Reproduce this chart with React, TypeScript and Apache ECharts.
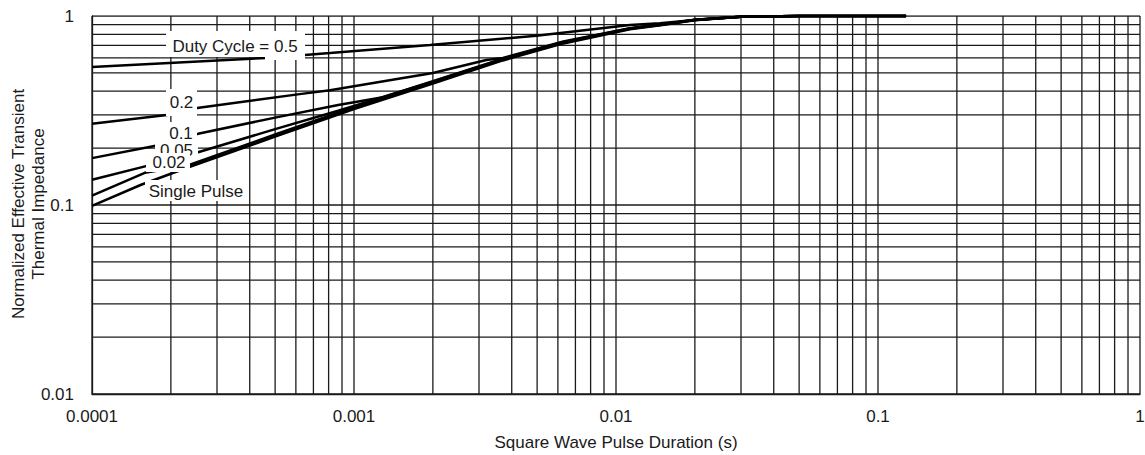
import React, { useEffect, useRef } from "react";
import * as echarts from "echarts";

const xTickLabels = ["0.0001", "0.001", "0.01", "0.1", "1"];
const yTickLabels = ["0.01", "0.1", "1"];

const xGridValues = [
  0.0001, 0.0002, 0.0003, 0.0004, 0.0005, 0.0006, 0.0007, 0.0008, 0.0009,
  0.001, 0.002, 0.003, 0.004, 0.005, 0.006, 0.007, 0.008, 0.009,
  0.01, 0.02, 0.03, 0.04, 0.05, 0.06, 0.07, 0.08, 0.09,
  0.1, 0.2, 0.3, 0.4, 0.5, 0.6, 0.7, 0.8, 0.9, 1,
];
const yGridValues = [
  0.01, 0.02, 0.03, 0.04, 0.05, 0.06, 0.07, 0.08, 0.09,
  0.1, 0.2, 0.3, 0.4, 0.5, 0.6, 0.7, 0.8, 0.9, 1,
];

const duty05 = [
  [0.0001, 0.537], [0.000466, 0.6], [0.00081, 0.637], [0.00195, 0.703],
  [0.00497, 0.786], [0.0113, 0.895], [0.0147, 0.915], [0.02, 0.953],
  [0.03, 0.99], [0.05, 1.0], [0.128, 1.0],
];
const duty02 = [
  [0.0001, 0.269], [0.000193, 0.299], [0.000252, 0.326], [0.00062, 0.386],
  [0.00081, 0.405], [0.002, 0.499], [0.0032, 0.585], [0.0037, 0.6],
  [0.0063, 0.733], [0.0113, 0.862], [0.015, 0.905], [0.02, 0.956],
  [0.03, 0.99], [0.05, 1.0], [0.128, 1.0],
];
const duty01 = [
  [0.0001, 0.177], [0.000179, 0.207], [0.000254, 0.238], [0.0005, 0.29],
  [0.00087, 0.338], [0.00129, 0.372], [0.002, 0.452], [0.0037, 0.595],
  [0.0063, 0.728], [0.0113, 0.86], [0.015, 0.903], [0.02, 0.955],
  [0.03, 0.99], [0.05, 1.0], [0.128, 1.0],
];
const duty005 = [
  [0.0001, 0.136], [0.000168, 0.163], [0.000254, 0.19], [0.0005, 0.252],
  [0.00087, 0.315], [0.001, 0.334], [0.002, 0.449], [0.0037, 0.592],
  [0.0063, 0.725], [0.0113, 0.858], [0.015, 0.901], [0.02, 0.954],
  [0.03, 0.99], [0.05, 1.0], [0.128, 1.0],
];
const duty002 = [
  [0.0001, 0.112], [0.000159, 0.148], [0.000232, 0.162], [0.0005, 0.236],
  [0.001, 0.329], [0.002, 0.445], [0.0037, 0.588], [0.0063, 0.721],
  [0.0113, 0.855], [0.015, 0.899], [0.02, 0.952], [0.03, 0.99],
  [0.05, 1.0], [0.128, 1.0],
];
const singlePulse = [
  [0.0001, 0.099], [0.000154, 0.128], [0.000232, 0.158], [0.0005, 0.23],
  [0.001, 0.322], [0.002, 0.439], [0.0037, 0.582], [0.0063, 0.716],
  [0.0113, 0.851], [0.015, 0.896], [0.02, 0.95], [0.03, 0.99],
  [0.05, 1.0], [0.128, 1.0],
];

const seriesList = [
  { name: "0.5", data: duty05 },
  { name: "0.2", data: duty02 },
  { name: "0.1", data: duty01 },
  { name: "0.05", data: duty005 },
  { name: "0.02", data: duty002 },
  { name: "Single Pulse", data: singlePulse },
];

const FONT = '"Liberation Sans", Arial, Helvetica, sans-serif';
const TEXT_COLOR = "#1a1a1a";
const GRID_COLOR = "#1a1a1a";

function labelBox(text: string, cx: number, cy: number, box: number[], z: number) {
  return [
    {
      type: "rect",
      z,
      silent: true,
      shape: { x: box[0], y: box[1], width: box[2] - box[0], height: box[3] - box[1] },
      style: { fill: "#fff" },
    },
    {
      type: "text",
      z: z + 1,
      silent: true,
      x: cx,
      y: cy,
      style: {
        text,
        font: `17px ${FONT}`,
        fill: TEXT_COLOR,
        align: "center",
        verticalAlign: "middle",
      },
    },
  ];
}

export default function App() {
  const ref = useRef<HTMLDivElement>(null);

  useEffect(() => {
    document.body.style.margin = "0";
    if (!ref.current) return;
    const chart = echarts.init(ref.current, undefined, { renderer: "svg" });

    const yMin = yGridValues[0];
    const yMax = yGridValues[yGridValues.length - 1];
    const xMin = xGridValues[0];
    const xMax = xGridValues[xGridValues.length - 1];

    const gridLineStyle = { color: GRID_COLOR, width: 1.3 };
    const gridSeries = [
      ...xGridValues.map((v) => ({
        type: "line",
        z: 1,
        silent: true,
        showSymbol: false,
        symbol: "none",
        data: [[v, yMin], [v, yMax]],
        lineStyle: gridLineStyle,
      })),
      ...yGridValues.map((v) => ({
        type: "line",
        z: 1,
        silent: true,
        showSymbol: false,
        symbol: "none",
        data: [[xMin, v], [xMax, v]],
        lineStyle: gridLineStyle,
      })),
    ];

    const graphics: any[] = [
      ...labelBox("Duty Cycle = 0.5", 235, 46, [166, 31, 305, 57], 20),
      { type: "rect", z: 20, silent: true, shape: { x: 265, y: 50, width: 40, height: 10 }, style: { fill: "#fff" } },
      ...labelBox("0.2", 181.5, 102, [166, 89, 197, 116], 22),
      ...labelBox("0.1", 181, 133, [166, 122, 197, 142], 24),
      ...labelBox("0.05", 176.5, 150, [155, 139, 198, 158], 26),
      ...labelBox("0.02", 169, 162, [146, 153, 190, 172], 28),
      ...labelBox("Single Pulse", 196, 191, [145, 180, 247, 201], 30),
      {
        type: "text",
        z: 40,
        x: 18,
        y: 204,
        rotation: Math.PI / 2,
        silent: true,
        style: {
          text: "Normalized Effective Transient",
          font: `17px ${FONT}`,
          fill: TEXT_COLOR,
          align: "center",
          verticalAlign: "middle",
        },
      },
      {
        type: "text",
        z: 40,
        x: 38,
        y: 204,
        rotation: Math.PI / 2,
        silent: true,
        style: {
          text: "Thermal Impedance",
          font: `17px ${FONT}`,
          fill: TEXT_COLOR,
          align: "center",
          verticalAlign: "middle",
        },
      },
    ];

    const option: any = {
      animation: false,
      backgroundColor: "#fff",
      grid: { left: 92, right: 5, top: 16, bottom: 61, containLabel: false, outerBoundsMode: "none" },
      xAxis: {
        type: "log",
        logBase: 10,
        min: 0.0001,
        max: 1,
        axisLine: { show: true, lineStyle: { color: GRID_COLOR, width: 1.3 } },
        axisTick: { show: false },
        splitLine: { show: false },
        axisLabel: {
          margin: 14,
          fontSize: 17,
          fontFamily: FONT,
          color: TEXT_COLOR,
          showMinLabel: true,
          showMaxLabel: true,
          formatter: (v: number) => xTickLabels[Math.round(Math.log10(v)) + 4] ?? "",
        },
        name: "Square Wave Pulse Duration (s)",
        nameLocation: "middle",
        nameGap: 40,
        nameTextStyle: { fontSize: 17, fontFamily: FONT, color: TEXT_COLOR },
      },
      yAxis: {
        type: "log",
        logBase: 10,
        min: 0.01,
        max: 1,
        axisLine: { show: true, lineStyle: { color: GRID_COLOR, width: 1.3 } },
        axisTick: { show: false },
        splitLine: { show: false },
        axisLabel: {
          margin: 18,
          fontSize: 17,
          fontFamily: FONT,
          color: TEXT_COLOR,
          showMinLabel: true,
          showMaxLabel: true,
          formatter: (v: number) => yTickLabels[Math.round(Math.log10(v)) + 2] ?? "",
        },
      },
      series: [
        ...gridSeries,
        ...seriesList.map((s) => ({
          type: "line",
          name: s.name,
          z: 3,
          data: s.data,
          showSymbol: false,
          symbol: "none",
          smooth: false,
          clip: false,
          silent: true,
          lineStyle: { color: "#000", width: 2.5 },
        })),
      ],
      graphic: graphics,
    };

    chart.setOption(option);
    return () => chart.dispose();
  }, []);

  return <div ref={ref} style={{ width: 1145, height: 455 }} />;
}
